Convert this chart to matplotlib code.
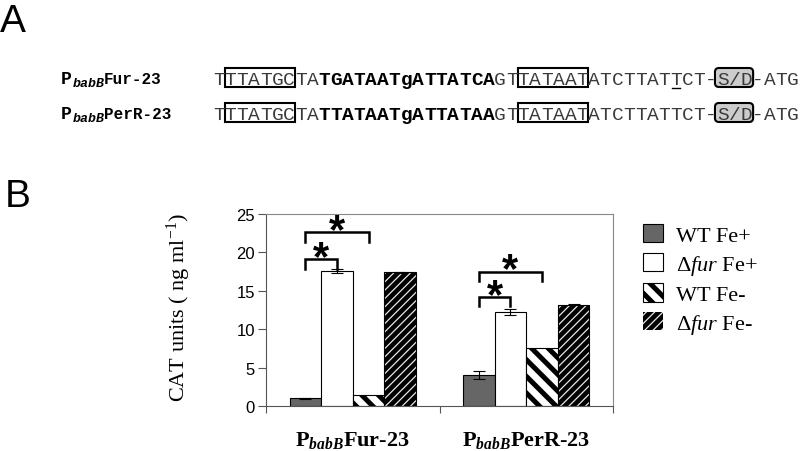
import numpy as np
import matplotlib.pyplot as plt
from matplotlib.patches import Rectangle, FancyBboxPatch
from matplotlib.lines import Line2D

plt.rcParams['font.family'] = 'Liberation Sans'
plt.rcParams['mathtext.fontset'] = 'custom'
plt.rcParams['mathtext.rm'] = 'Liberation Serif'
plt.rcParams['mathtext.it'] = 'Liberation Serif:italic'
plt.rcParams['mathtext.bf'] = 'Liberation Serif:bold'
plt.rcParams['mathtext.bfit'] = 'Liberation Serif:italic:bold'

# ---- data ----
categories = [r'P$_{\mathbfit{babB}}$Fur-23', r'P$_{\mathbfit{babB}}$PerR-23']
series = ['WT Fe+', r'Δ$\mathit{fur}$ Fe+', 'WT Fe-', r'Δ$\mathit{fur}$ Fe-']
wt_fe_plus = [1.0, 4.0]
dfur_fe_plus = [17.6, 12.2]
wt_fe_minus = [1.4, 7.6]
dfur_fe_minus = [17.4, 13.2]
err_wt_fe_plus = [0.1, 0.5]
err_dfur_fe_plus = [0.3, 0.4]
err_wt_fe_minus = [0.0, 0.0]
err_dfur_fe_minus = [0.1, 0.1]
# significance brackets: (bar a, bar b), top of bracket per group
sig_pairs = [(0, 1), (0, 2)]
sig_tops = [[19.1, 22.6], [14.2, 17.5]]

# panel A sequences
seq_names = ['Fur-23', 'PerR-23']
seq_parts = [
    [('TTTATGCTA', 'normal'), ('TGATAATgATTATCA', 'bold'), ('GTTATAATATCTTATTCT-S/D-ATG', 'normal')],
    [('TTTATGCTA', 'normal'), ('TTATAATgATTATAA', 'bold'), ('GTTATAATATCTTATTCT-S/D-ATG', 'normal')],
]
box_spans = [(1, 7), (26, 32)]
sd_span = (43, 46)
underline_idx = 39

W, H = 800, 452
fig = plt.figure(figsize=(8, 4.52), dpi=100)
tr = fig.dpi_scale_trans
def ix(x): return x / 100
def iy(y): return (H - y) / 100

def set_hlw(patch, lw):
    if hasattr(patch, 'set_hatch_linewidth'):
        patch.set_hatch_linewidth(lw)

# ---- panel letters ----
fig.text(ix(0), iy(32), 'A', transform=tr, fontsize=28, va='baseline')
fig.text(ix(5), iy(207), 'B', transform=tr, fontsize=28, va='baseline')

# ---- panel A ----
pitch = (799 - 213) / 50
x0 = 213
baselines = [84, 119]
for r, parts in enumerate(seq_parts):
    b = baselines[r]
    # row label
    fig.text(ix(61), iy(b), 'P', transform=tr, family='Liberation Mono', fontweight='bold', fontsize=13, va='baseline')
    fig.text(ix(73), iy(b + 3), 'babB', transform=tr, family='Liberation Mono', fontweight='bold', style='italic', fontsize=9.5, va='baseline')
    fig.text(ix(104), iy(b), seq_names[r], transform=tr, family='Liberation Mono', fontweight='bold', fontsize=11.5, va='baseline')
    i = 0
    for s, wt in parts:
        for ch in s:
            fig.text(ix(x0 + (i + 0.5) * pitch), iy(b + 1), ch, transform=tr, ha='center', va='baseline',
                     family='Liberation Mono', fontsize=14, fontweight=wt,
                     color='black' if wt == 'bold' else '#3a3a3a')
            i += 1
    top, bot = b - 15, b + 4
    for a, e in box_spans:
        fig.add_artist(Rectangle((ix(x0 + a * pitch), iy(bot)), (e - a) * pitch / 100, (bot - top) / 100,
                                 transform=tr, fill=False, ec='black', lw=1.5))
    a, e = sd_span
    fig.add_artist(FancyBboxPatch((ix(x0 + a * pitch - 2), iy(bot)), ((e - a) * pitch + 3) / 100, (bot - top) / 100,
                                  boxstyle='round,pad=0,rounding_size=0.04', transform=tr,
                                  fc='#cccccc', ec='black', lw=1.5, zorder=0))
    if r == 0:
        cx = x0 + (underline_idx + 0.5) * pitch
        fig.add_artist(Line2D([ix(cx - 4), ix(cx + 4)], [iy(b + 5), iy(b + 5)], transform=tr, color='black', lw=1))

# ---- panel B ----
ax = fig.add_axes([266 / W, 1 - 407 / H, (613 - 266) / W, (407 - 215) / H])
x = np.arange(len(categories))
w = 0.182
ekw = dict(elinewidth=0.8, capthick=0.8, ecolor='black')
b0 = ax.bar(x - 1.5 * w, wt_fe_plus, w, color='#666666', edgecolor='black', lw=0.8,
            yerr=err_wt_fe_plus, capsize=4, error_kw=ekw)
b1 = ax.bar(x - 0.5 * w, dfur_fe_plus, w, color='white', edgecolor='black', lw=0.8,
            yerr=err_dfur_fe_plus, capsize=4, error_kw=ekw)
b2 = ax.bar(x + 0.5 * w, wt_fe_minus, w, color='white', edgecolor='black', lw=0.8, hatch='\\\\')
b3 = ax.bar(x + 1.5 * w, dfur_fe_minus, w, color='black', edgecolor='#e8e8e8', lw=0, hatch='////')
ax.bar(x + 1.5 * w, dfur_fe_minus, w, fill=False, edgecolor='black', lw=0.8,
       yerr=err_dfur_fe_minus, capsize=4, error_kw=ekw)
for p in b2.patches:
    set_hlw(p, 3.6)
for p in b3.patches:
    set_hlw(p, 0.9)

offs = np.array([-1.5, -0.5, 0.5, 1.5]) * w
for g in range(len(categories)):
    for k, (pa, pb) in enumerate(sig_pairs):
        xa, xb = x[g] + offs[pa], x[g] + offs[pb]
        t = sig_tops[g][k]
        ax.plot([xa, xa, xb, xb], [t - 1.2, t, t, t - 1.2], color='black', lw=1.8,
                solid_joinstyle='miter', clip_on=False)
        ax.annotate('*', xy=((xa + xb) / 2, t), xytext=(0, -7), textcoords='offset points',
                    ha='center', va='baseline', fontsize=30, fontweight='bold')

ax.set_xlim(-0.5, 1.5)
ax.set_ylim(0, 25)
ax.set_yticks(np.arange(0, 26, 5))
ax.set_xticks([-0.5, 0.5, 1.5])
ax.set_xticklabels([])
ax.tick_params(axis='y', length=6, width=0.8, color='#555555', pad=2, labelsize=12)
ax.tick_params(axis='x', length=5, width=0.8, color='#555555')
for s in ['top', 'right']:
    ax.spines[s].set_color('#888888')
for s in ['left', 'bottom']:
    ax.spines[s].set_color('#555555')

for g, lab in enumerate(categories):
    ax.annotate(lab, xy=(x[g], 0), xycoords=('data', 'axes fraction'), xytext=(0, -28),
                textcoords='offset points', ha='center', va='baseline',
                family='Liberation Serif', fontweight='bold', fontsize=16)

fig.text(ix(179), iy(308), 'CAT units ( ng ml$^{-1}$)', transform=tr, rotation=90,
         ha='center', va='center', family='Liberation Serif', fontsize=16)

leg = ax.legend([b0, b1, b2, b3], series, loc='upper left', bbox_to_anchor=(643 / W, 1 - 225 / H),
                bbox_transform=fig.transFigure, frameon=False,
                prop={'family': 'Liberation Serif', 'size': 16},
                handlelength=0.9, handleheight=0.9, handletextpad=0.6, labelspacing=0.3,
                borderpad=0, borderaxespad=0)
lp = leg.get_patches()
set_hlw(lp[2], 3.6)
set_hlw(lp[3], 0.9)

fig.savefig('out.png', dpi=100)
